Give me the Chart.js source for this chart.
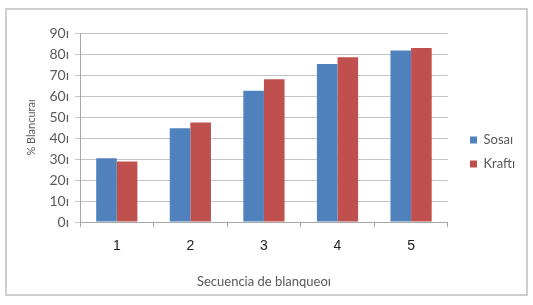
<!DOCTYPE html>
<html>
<head>
<meta charset="utf-8">
<script src="https://cdn.jsdelivr.net/npm/chart.js@4/dist/chart.umd.min.js"></script>
<style>
  html, body { margin: 0; padding: 0; background: #fff; }
  #wrap { position: relative; width: 533px; height: 305px; }
  #frame {
    position: absolute; left: 5px; top: 8px; width: 519px; height: 284px;
    border: 2px solid #cfcfcf; pointer-events: none;
  }
  canvas { position: absolute; left: 0; top: 0; }
</style>
</head>
<body>
<div id="wrap">
  <canvas id="chart" width="533" height="305"></canvas>
  <div id="frame"></div>
</div>
<script>
const categories = ["1", "2", "3", "4", "5"];
const sosa = [30.3, 44.7, 62.5, 75.2, 81.7];
const kraft = [28.8, 47.4, 68.0, 78.4, 82.8];
const yTickLabels = ["0ı", "10ı", "20ı", "30ı", "40ı", "50ı", "60ı", "70ı", "80ı", "90ı"];
const seriesNames = ["Sosaı", "Kraftı"];

const gray = "#595959";

// move the legend to where it sits in the picture
const legendShift = {
  id: "legendShift",
  afterLayout(chart) {
    const lg = chart.legend;
    if (!lg) return;
    const dx = 459 - lg.left;
    const dy = -12;
    lg.left += dx; lg.right += dx;
    lg.top += dy; lg.bottom += dy;
  }
};

new Chart(document.getElementById("chart"), {
  type: "bar",
  data: {
    labels: categories,
    datasets: [
      { label: seriesNames[0], data: sosa, backgroundColor: "#4f81bd" },
      { label: seriesNames[1], data: kraft, backgroundColor: "#c0504d" }
    ]
  },
  options: {
    responsive: false,
    animation: false,
    layout: { padding: { left: 20, right: 19, top: 33, bottom: 10 } },
    datasets: { bar: { categoryPercentage: 0.56, barPercentage: 1 } },
    plugins: {
      legend: {
        position: "right",
        labels: {
          boxWidth: 7, boxHeight: 7, padding: 11,
          color: gray,
          font: { family: "Lato", size: 13 }
        }
      },
      tooltip: { enabled: false }
    },
    scales: {
      x: {
        grid: { offset: true, drawOnChartArea: false, drawTicks: true, tickLength: 5, color: "#a6a6a6" },
        border: { color: "#a6a6a6" },
        ticks: { color: "#222", padding: 11, font: { family: "Liberation Sans", size: 14 } },
        title: {
          display: true, text: "Secuencia de blanqueoı", color: gray,
          font: { family: "Lato", size: 13 }, padding: { top: 0, bottom: 5 }
        },
        afterFit(scale) { scale.height = 73; }
      },
      y: {
        min: 0, max: 90,
        grid: { color: "#c4c4c4", tickLength: 5 },
        border: { color: "#a6a6a6" },
        ticks: {
          stepSize: 10, padding: 6, color: gray,
          font: { family: "Lato", size: 14 },
          callback: (v, i) => yTickLabels[i]
        },
        title: {
          display: true, text: "% Blancuraı", color: gray,
          font: { family: "Lato", size: 11 }, padding: { top: 5, bottom: 0 }
        },
        afterFit(scale) { scale.width = 60; }
      }
    }
  },
  plugins: [legendShift]
});
</script>
</body>
</html>
